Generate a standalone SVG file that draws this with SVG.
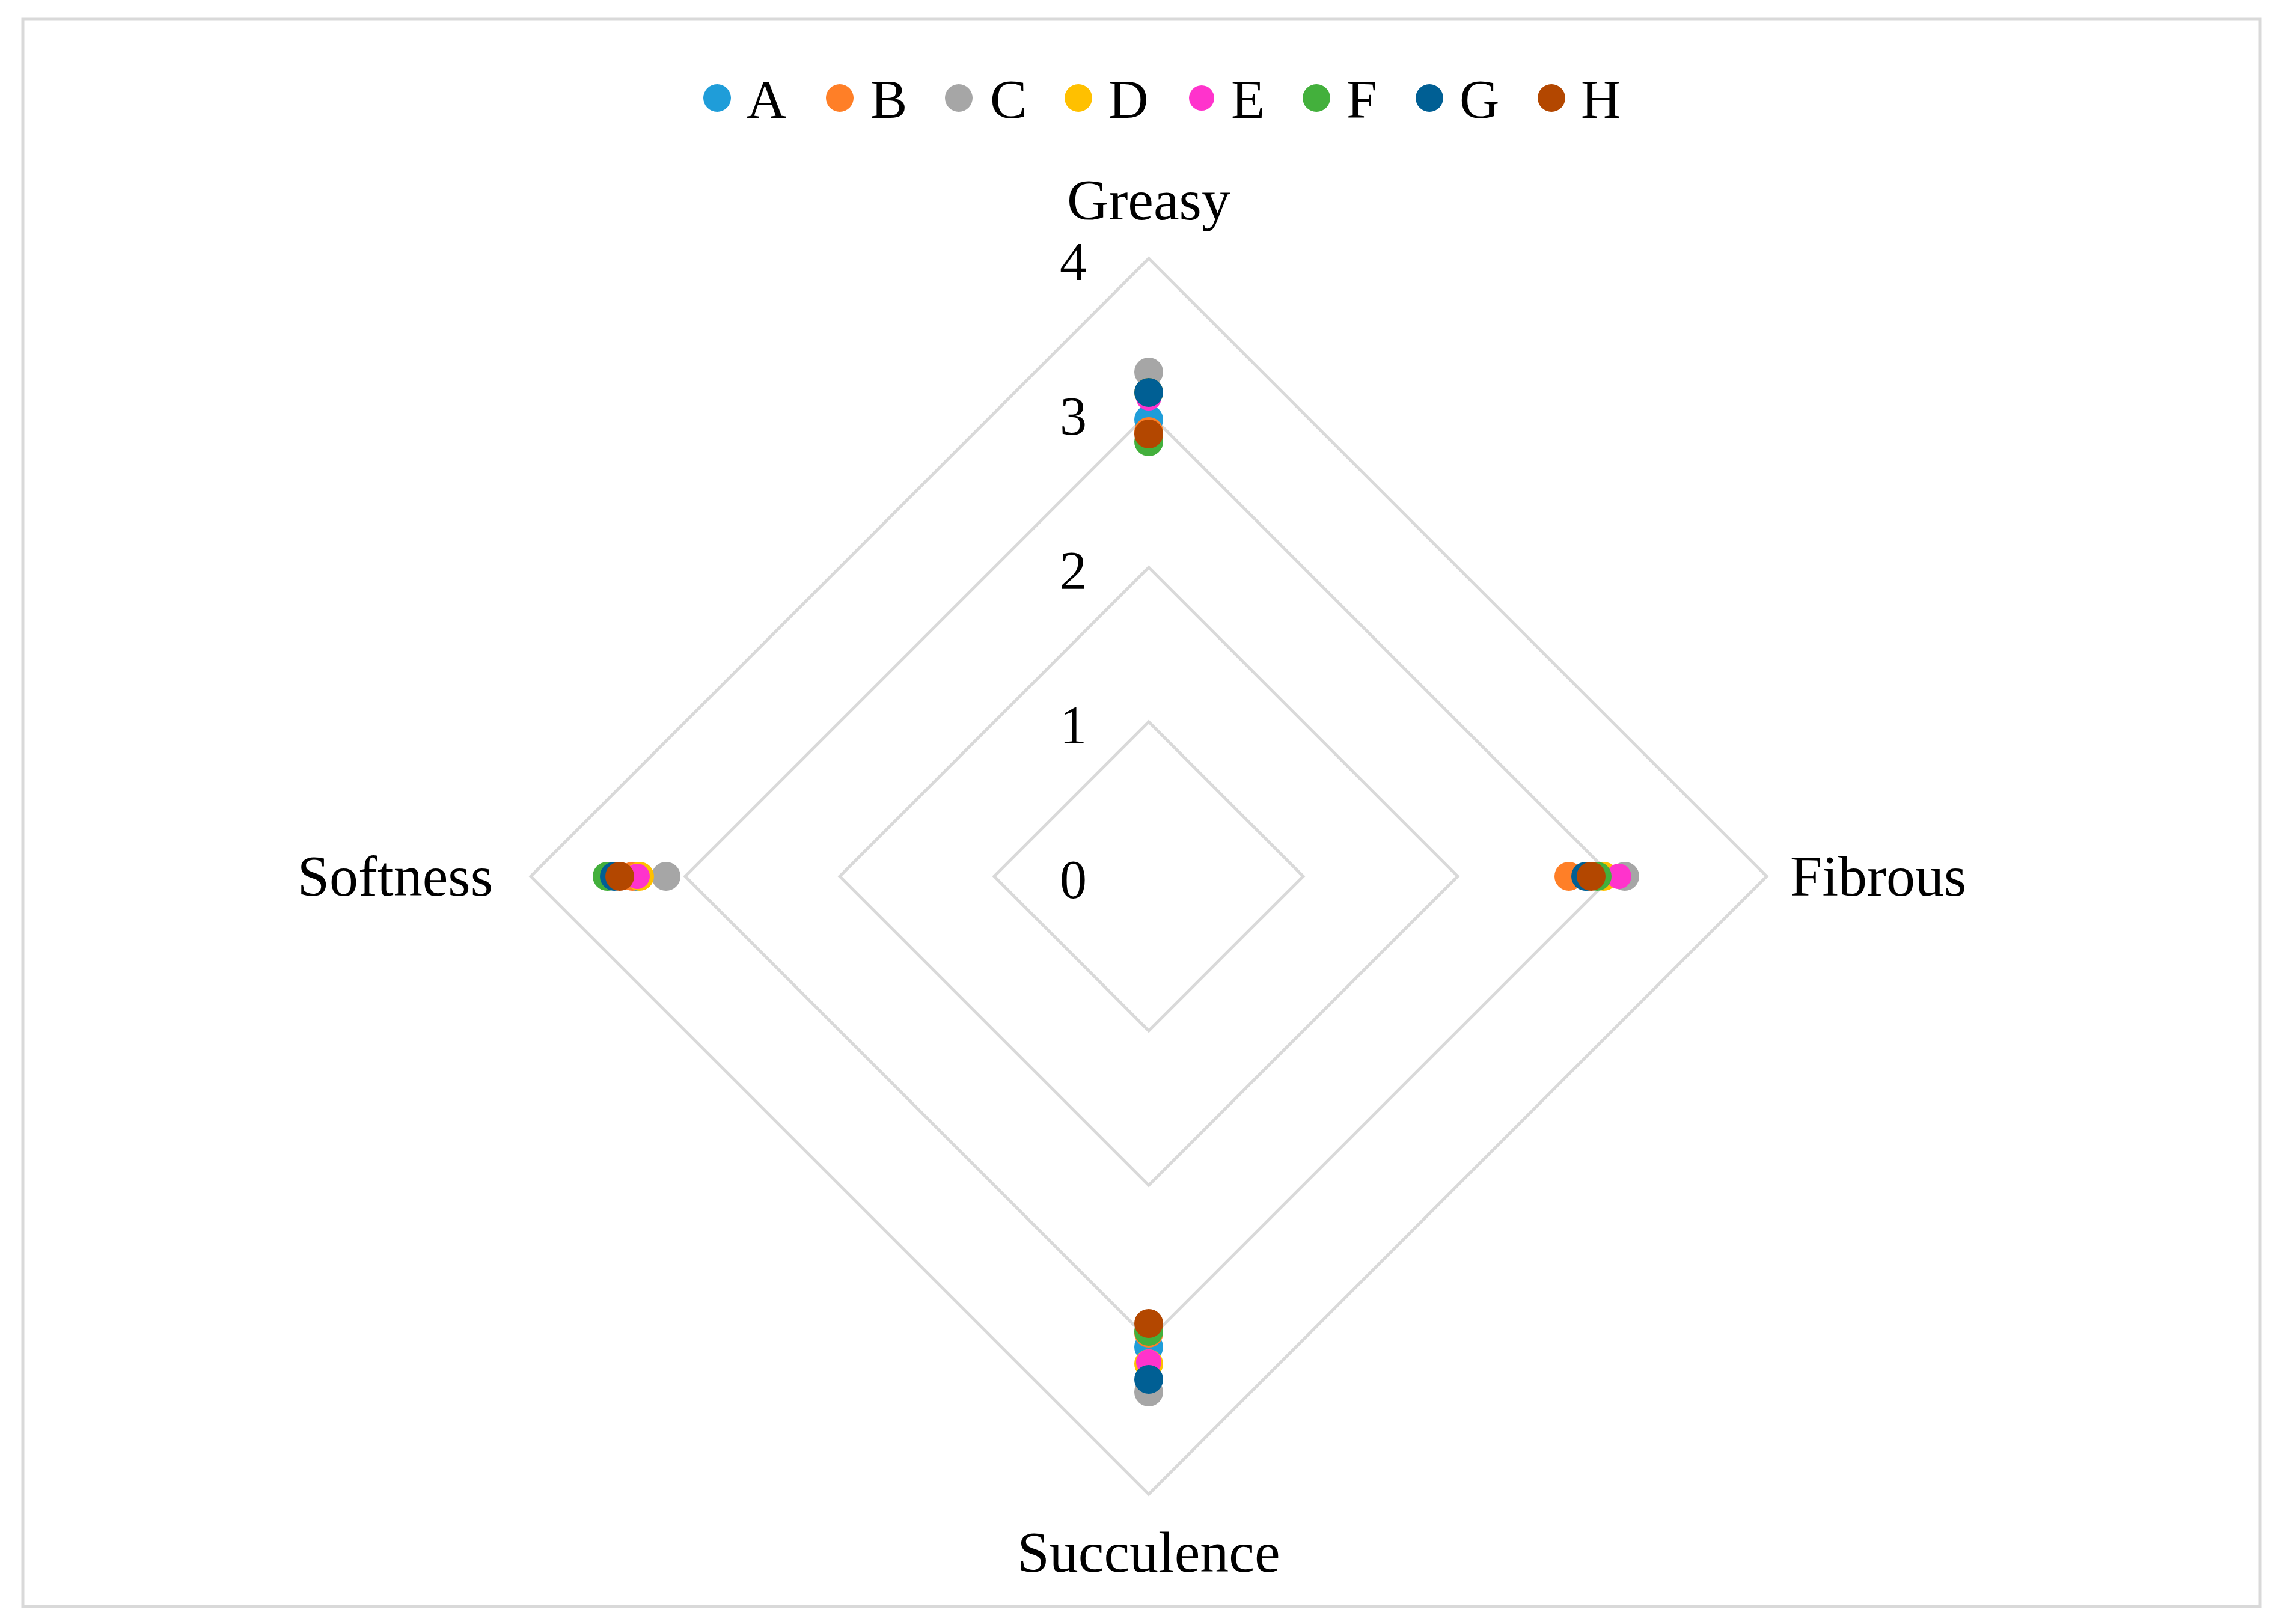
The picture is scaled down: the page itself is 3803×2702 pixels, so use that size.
<svg xmlns="http://www.w3.org/2000/svg" width="3803" height="2702" viewBox="0 0 3803 2702">
<style>
text{font-family:"Liberation Serif","Times New Roman",serif;fill:#000}
.g{fill:none;stroke:#d9d9d9;stroke-width:5}
.lab{font-size:96px}
.num{font-size:90px;text-anchor:end}
.leg{font-size:92px}
.A{fill:#1f9dd9}.B{fill:#ff7f27}.C{fill:#a6a6a6}.D{fill:#ffc000}.E{fill:#ff33cc}.F{fill:#43b03c}.G{fill:#005f94}.H{fill:#b34700}
</style>
<rect x="0" y="0" width="3803" height="2702" fill="#fff"/>
<rect x="38" y="32" width="3722" height="2641" fill="#fff" stroke="#d9d9d9" stroke-width="5"/>
<g id="grid">
<polygon class="g" points="1911,1201 2168,1458 1911,1715 1654,1458"/>
<polygon class="g" points="1911,944 2425,1458 1911,1972 1397,1458"/>
<polygon class="g" points="1911,687 2682,1458 1911,2229 1140,1458"/>
<polygon class="g" points="1911,430 2939,1458 1911,2486 883,1458"/>
</g>
<g id="axis-labels">
<text class="num" x="1808" y="1494">0</text>
<text class="num" x="1808" y="1237">1</text>
<text class="num" x="1808" y="980">2</text>
<text class="num" x="1808" y="723">3</text>
<text class="num" x="1808" y="466">4</text>
<text class="lab" x="1911" y="365" text-anchor="middle">Greasy</text>
<text class="lab" x="2978" y="1490">Fibrous</text>
<text class="lab" x="1911" y="2615" text-anchor="middle">Succulence</text>
<text class="lab" x="820" y="1490" text-anchor="end">Softness</text>
</g>
<g id="legend">
<circle class="A" cx="1193" cy="163" r="23"/><text class="leg" x="1242" y="196">A</text>
<circle class="B" cx="1397" cy="163" r="23"/><text class="leg" x="1448" y="196">B</text>
<circle class="C" cx="1595" cy="163" r="23"/><text class="leg" x="1647" y="196">C</text>
<circle class="D" cx="1794" cy="163" r="23"/><text class="leg" x="1844" y="196">D</text>
<circle class="E" cx="1999" cy="163" r="21"/><text class="leg" x="2048" y="196">E</text>
<circle class="F" cx="2190" cy="163" r="23"/><text class="leg" x="2240" y="196">F</text>
<circle class="G" cx="2378" cy="163" r="23"/><text class="leg" x="2428" y="196">G</text>
<circle class="H" cx="2581" cy="163" r="23"/><text class="leg" x="2630" y="196">H</text>
</g>
<g id="series-A"><circle class="A" cx="1911" cy="698" r="24"/><circle class="A" cx="2640" cy="1458" r="24"/><circle class="A" cx="1911" cy="2241" r="24"/><circle class="A" cx="1058" cy="1458" r="24"/></g>
<g id="series-B"><circle class="B" cx="1911" cy="718" r="24"/><circle class="B" cx="2610" cy="1458" r="24"/><circle class="B" cx="1911" cy="2218" r="24"/><circle class="B" cx="1052" cy="1458" r="24"/></g>
<g id="series-C"><circle class="C" cx="1911" cy="619" r="24"/><circle class="C" cx="2703" cy="1458" r="24"/><circle class="C" cx="1911" cy="2316" r="24"/><circle class="C" cx="1108" cy="1458" r="24"/></g>
<g id="series-D"><circle class="D" cx="1911" cy="653" r="24"/><circle class="D" cx="2668" cy="1458" r="24"/><circle class="D" cx="1911" cy="2269" r="24"/><circle class="D" cx="1064" cy="1458" r="24"/></g>
<g id="series-E"><circle class="E" cx="1911" cy="662" r="21"/><circle class="E" cx="2693" cy="1458" r="21"/><circle class="E" cx="1911" cy="2266" r="21"/><circle class="E" cx="1060" cy="1458" r="21"/></g>
<g id="series-F"><circle class="F" cx="1911" cy="735" r="24"/><circle class="F" cx="2657" cy="1458" r="24"/><circle class="F" cx="1911" cy="2215" r="24"/><circle class="F" cx="1010" cy="1458" r="24"/></g>
<g id="series-G"><circle class="G" cx="1911" cy="653" r="24"/><circle class="G" cx="2638" cy="1458" r="24"/><circle class="G" cx="1911" cy="2295" r="24"/><circle class="G" cx="1022" cy="1458" r="24"/></g>
<g id="series-H"><circle class="H" cx="1911" cy="722" r="24"/><circle class="H" cx="2647" cy="1458" r="24"/><circle class="H" cx="1911" cy="2202" r="24"/><circle class="H" cx="1031" cy="1458" r="24"/></g>
</svg>
